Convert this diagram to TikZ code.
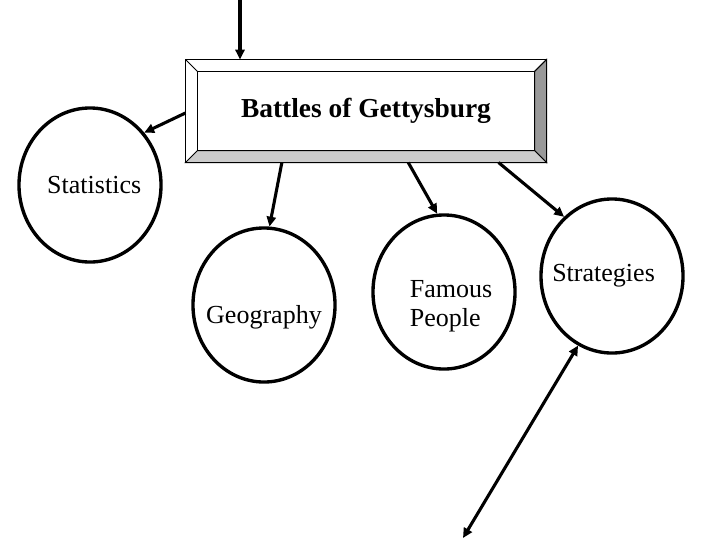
\documentclass[tikz,border=0pt]{standalone}
\usepackage{fontspec}
\setmainfont{Liberation Serif}
\usetikzlibrary{arrows.meta,shapes.geometric,positioning,calc}

\begin{document}
\begin{tikzpicture}[x=0.025cm, y=-0.025cm,
    topic/.style={draw, ellipse, line width=2.4pt, minimum width=3.55cm, minimum height=3.85cm, inner sep=0pt, align=left, font=\fontsize{18.5}{21}\selectfont},
    every label/.style={align=left, font=\fontsize{18.5}{21}\selectfont},
    arr/.style={-{Triangle[length=7pt, width=6.5pt]}, line width=2.2pt},
    dbl/.style={{Triangle[length=7pt, width=6.5pt]}-{Triangle[length=7pt, width=6.5pt]}, line width=2.2pt},
    bev/.style={draw, line width=0.7pt}
]
\useasboundingbox (0,0) rectangle (720,540);

% title box with bevel
\node[bev, fill=white, minimum width=9cm, minimum height=2.55cm, inner sep=0pt, font=\fontsize{19.5}{23}\selectfont\bfseries] (title) at (366,111) {Battles of Gettysburg};
\filldraw[bev, fill=black!40] (title.north east) -- ($(title.north east)+(-12,12)$) -- ($(title.south east)+(-12,-12)$) -- (title.south east) -- cycle;
\filldraw[bev, fill=black!20] (title.south west) -- ($(title.south west)+(12,-12)$) -- ($(title.south east)+(-12,-12)$) -- (title.south east) -- cycle;
\draw[bev] ($(title.north west)+(12,12)$) rectangle ($(title.south east)+(-12,-12)$);
\draw[bev] (title.north west) -- ++(12,12);
\draw[bev] (title.north east) -- ++(-12,12);

% topics
\node[topic, label={[xshift=3pt]center:Statistics}] (stat) at (90,185) {};
\node[topic, label={[yshift=-9pt]center:Geography}] (geo) at (264,305) {};
\node[topic, label={[yshift=-10pt, xshift=5pt]center:Famous\\People}] (fame) at (444,292) {};
\node[topic, label={[xshift=-6pt]center:Strategies}] (strat) at (612,276) {};

\coordinate (in) at (240,0);
\coordinate (out) at (463,538);

\draw[arr] (in) -- (in |- title.north);
\draw[arr] ($(title.west)+(0,2)$) -- (stat.44);
\draw[arr] ($(title.south west)!0.267!(title.south east)$) -- (geo.86);
\draw[arr] ($(title.south west)!0.617!(title.south east)$) -- (fame.95);
\draw[arr] ($(title.south west)!0.867!(title.south east)$) -- (strat.129);
\draw[dbl] (strat.244) -- (out);
\end{tikzpicture}
\end{document}
